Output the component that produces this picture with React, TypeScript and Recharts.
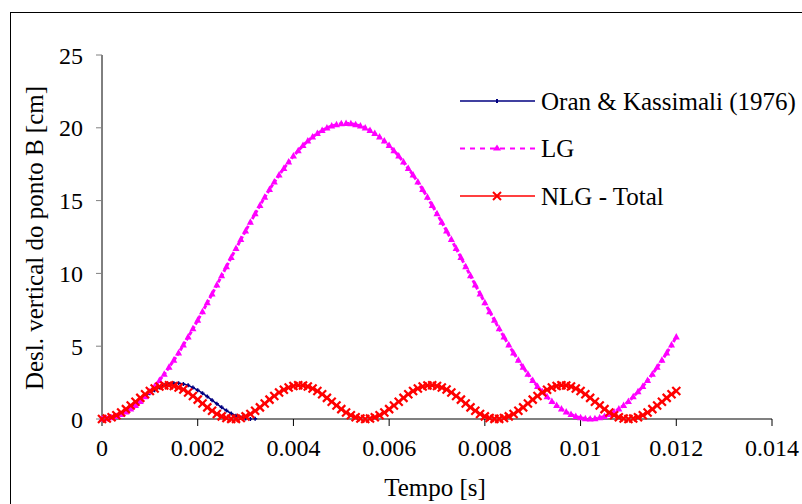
import React from "react"
import { Line, LineChart, XAxis, YAxis } from "recharts"

// tempo [s]
const times = [
  0, 0.0001, 0.0002, 0.0003, 0.0004, 0.0005, 0.0006, 0.0007, 0.0008, 0.0009,
  0.001, 0.0011, 0.0012, 0.0013, 0.0014, 0.0015, 0.0016, 0.0017, 0.0018, 0.0019,
  0.002, 0.0021, 0.0022, 0.0023, 0.0024, 0.0025, 0.0026, 0.0027, 0.0028, 0.0029,
  0.003, 0.0031, 0.0032, 0.0033, 0.0034, 0.0035, 0.0036, 0.0037, 0.0038, 0.0039,
  0.004, 0.0041, 0.0042, 0.0043, 0.0044, 0.0045, 0.0046, 0.0047, 0.0048, 0.0049,
  0.005, 0.0051, 0.0052, 0.0053, 0.0054, 0.0055, 0.0056, 0.0057, 0.0058, 0.0059,
  0.006, 0.0061, 0.0062, 0.0063, 0.0064, 0.0065, 0.0066, 0.0067, 0.0068, 0.0069,
  0.007, 0.0071, 0.0072, 0.0073, 0.0074, 0.0075, 0.0076, 0.0077, 0.0078, 0.0079,
  0.008, 0.0081, 0.0082, 0.0083, 0.0084, 0.0085, 0.0086, 0.0087, 0.0088, 0.0089,
  0.009, 0.0091, 0.0092, 0.0093, 0.0094, 0.0095, 0.0096, 0.0097, 0.0098, 0.0099,
  0.01, 0.0101, 0.0102, 0.0103, 0.0104, 0.0105, 0.0106, 0.0107, 0.0108, 0.0109,
  0.011, 0.0111, 0.0112, 0.0113, 0.0114, 0.0115, 0.0116, 0.0117, 0.0118, 0.0119,
  0.012,
]

// Oran & Kassimali (1976), only up to 0.0032 s
const oran = [
  0, 0.03, 0.1, 0.22, 0.38, 0.58, 0.8, 1.04, 1.29, 1.54,
  1.77, 1.98, 2.16, 2.31, 2.4, 2.45, 2.45, 2.4, 2.31, 2.16,
  1.98, 1.77, 1.54, 1.29, 1.04, 0.8, 0.58, 0.38, 0.22, 0.1,
  0.03, 0, 0.01,
]

const lg = [
  0, 0.02, 0.08, 0.17, 0.31, 0.48, 0.69, 0.93, 1.21, 1.52,
  1.87, 2.24, 2.65, 3.08, 3.55, 4.03, 4.54, 5.08, 5.63, 6.19,
  6.78, 7.37, 7.98, 8.59, 9.21, 9.84, 10.46, 11.09, 11.71, 12.32,
  12.92, 13.52, 14.1, 14.67, 15.23, 15.76, 16.27, 16.75, 17.21, 17.65,
  18.06, 18.43, 18.78, 19.09, 19.37, 19.61, 19.82, 19.99, 20.12, 20.21,
  20.28, 20.3, 20.28, 20.21, 20.12, 19.99, 19.82, 19.61, 19.37, 19.09,
  18.78, 18.43, 18.06, 17.65, 17.21, 16.75, 16.27, 15.76, 15.23, 14.67,
  14.1, 13.52, 12.92, 12.32, 11.71, 11.09, 10.46, 9.84, 9.21, 8.59,
  7.98, 7.37, 6.78, 6.19, 5.63, 5.08, 4.54, 4.03, 3.55, 3.08,
  2.65, 2.24, 1.87, 1.52, 1.21, 0.93, 0.69, 0.48, 0.31, 0.17,
  0.08, 0.02, 0, 0.02, 0.08, 0.17, 0.31, 0.48, 0.69, 0.93,
  1.21, 1.52, 1.87, 2.24, 2.65, 3.08, 3.55, 4.03, 4.54, 5.08,
  5.63,
]

const nlg = [
  0, 0.03, 0.12, 0.26, 0.45, 0.68, 0.93, 1.19, 1.45, 1.7,
  1.92, 2.1, 2.23, 2.3, 2.32, 2.27, 2.17, 2.02, 1.82, 1.58,
  1.33, 1.06, 0.8, 0.56, 0.35, 0.18, 0.07, 0.01, 0.01, 0.07,
  0.18, 0.35, 0.56, 0.8, 1.06, 1.33, 1.58, 1.82, 2.01, 2.17,
  2.27, 2.32, 2.3, 2.23, 2.1, 1.92, 1.7, 1.45, 1.19, 0.93,
  0.68, 0.45, 0.26, 0.12, 0.03, 0, 0.03, 0.12, 0.26, 0.45,
  0.68, 0.93, 1.19, 1.45, 1.7, 1.92, 2.1, 2.23, 2.3, 2.32,
  2.27, 2.17, 2.02, 1.82, 1.58, 1.33, 1.06, 0.8, 0.56, 0.35,
  0.18, 0.07, 0.01, 0.01, 0.07, 0.18, 0.35, 0.56, 0.8, 1.06,
  1.33, 1.58, 1.82, 2.01, 2.17, 2.27, 2.32, 2.3, 2.23, 2.1,
  1.92, 1.7, 1.45, 1.19, 0.93, 0.68, 0.45, 0.26, 0.12, 0.03,
  0, 0.03, 0.12, 0.26, 0.45, 0.68, 0.93, 1.19, 1.45, 1.7,
  1.92,
]

const xTicks = [0, 0.002, 0.004, 0.006, 0.008, 0.01, 0.012, 0.014]
const yTicks = [0, 5, 10, 15, 20, 25]

const legendItems = [
  { name: "Oran & Kassimali (1976)", color: "#000080", kind: "plus" },
  { name: "LG", color: "#FF00FF", kind: "tri" },
  { name: "NLG - Total", color: "#FF0000", kind: "cross" },
]

const data = times.map((t, i) => ({ t, oran: oran[i], lg: lg[i], nlg: nlg[i] }))

const font = "Liberation Serif"

function PlusDot(props: any) {
  const { cx, cy, index } = props
  if (cx == null || cy == null || isNaN(cy)) return <g key={index} />
  return (
    <path
      key={index}
      d={`M${cx - 2},${cy}L${cx + 2},${cy}M${cx},${cy - 2}L${cx},${cy + 2}`}
      stroke="#000080"
      strokeWidth={1.5}
    />
  )
}

function TriDot(props: any) {
  const { cx, cy, index } = props
  if (cx == null || cy == null) return <g key={index} />
  return <path key={index} d={`M${cx},${cy - 4}L${cx + 3.5},${cy + 2.5}L${cx - 3.5},${cy + 2.5}Z`} fill="#FF00FF" />
}

function CrossDot(props: any) {
  const { cx, cy, index } = props
  if (cx == null || cy == null) return <g key={index} />
  return (
    <path
      key={index}
      d={`M${cx - 4},${cy - 4}L${cx + 4},${cy + 4}M${cx + 4},${cy - 4}L${cx - 4},${cy + 4}`}
      stroke="#FF0000"
      strokeWidth={2.2}
    />
  )
}

function YTitle(props: any) {
  const { viewBox } = props
  const cy = viewBox.y + viewBox.height / 2 + 1
  return (
    <text x={34} y={cy} transform={`rotate(-90 34 ${cy})`} textAnchor="middle" dominantBaseline="central"
      fontFamily={font} fontSize={25} fill="#000">
      Desl. vertical do ponto B [cm]
    </text>
  )
}

function XTitle(props: any) {
  const { viewBox } = props
  const cx = viewBox.x + viewBox.width / 2
  return (
    <text x={cx - 2} y={487} textAnchor="middle" dominantBaseline="central" fontFamily={font} fontSize={25} fill="#000">
      Tempo [s]
    </text>
  )
}

function LegendBox() {
  return (
    <svg width={347} height={130} style={{ position: "absolute", left: 455, top: 85 }}>
      {legendItems.map((it, i) => {
        const y = 16 + i * 47.5
        return (
          <g key={it.name}>
            <line x1={5} x2={80} y1={y} y2={y} stroke={it.color} strokeWidth={it.kind === "tri" ? 2 : 1.5}
              strokeDasharray={it.kind === "tri" ? "5 5" : undefined} />
            {it.kind === "plus" && <path d={`M42,${y - 2}L42,${y + 2}`} stroke={it.color} strokeWidth={2} />}
            {it.kind === "tri" && <path d={`M42,${y - 4}L46,${y + 2}L38,${y + 2}Z`} fill={it.color} />}
            {it.kind === "cross" && (
              <path d={`M38,${y - 4}L46,${y + 4}M46,${y - 4}L38,${y + 4}`} stroke={it.color} strokeWidth={2} />
            )}
            <text x={86} y={y} dominantBaseline="central" fontFamily={font} fontSize={25} fill="#000">
              {it.name}
            </text>
          </g>
        )
      })}
    </svg>
  )
}

export default function App() {
  return (
    <div style={{ position: "absolute", left: 0, top: 0, width: 802, height: 504, overflow: "hidden", background: "#fff" }}>
      <div style={{ position: "absolute", left: 10, top: 12, width: 820, height: 520, border: "1px solid #000" }} />
      <LineChart width={802} height={504} data={data} margin={{ top: 55, right: 30, bottom: 0, left: 0 }}
        style={{ position: "absolute", left: 0, top: 0 }}>
        <XAxis
          dataKey="t"
          type="number"
          domain={[0, 0.014]}
          ticks={xTicks}
          height={85}
          tickSize={7}
          tickMargin={13}
          axisLine={{ stroke: "#808080", strokeWidth: 2 }}
          tickLine={{ stroke: "#000" }}
          tick={{ fill: "#000", fontSize: 24, fontFamily: font }}
          label={<XTitle />}
        />
        <YAxis
          type="number"
          domain={[0, 25]}
          ticks={yTicks}
          width={102}
          tickSize={6}
          tickMargin={13}
          axisLine={{ stroke: "#000" }}
          tickLine={{ stroke: "#808080" }}
          tick={{ fill: "#000", fontSize: 24, fontFamily: font }}
          label={<YTitle />}
        />
        <Line dataKey="oran" stroke="#000080" strokeWidth={1.5} dot={<PlusDot />} isAnimationActive={false} />
        <Line dataKey="lg" stroke="#FF00FF" strokeWidth={3} strokeDasharray="4 2" dot={<TriDot />} isAnimationActive={false} />
        <Line dataKey="nlg" stroke="#FF0000" strokeWidth={1.5} dot={<CrossDot />} isAnimationActive={false} />
      </LineChart>
      <LegendBox />
    </div>
  )
}
